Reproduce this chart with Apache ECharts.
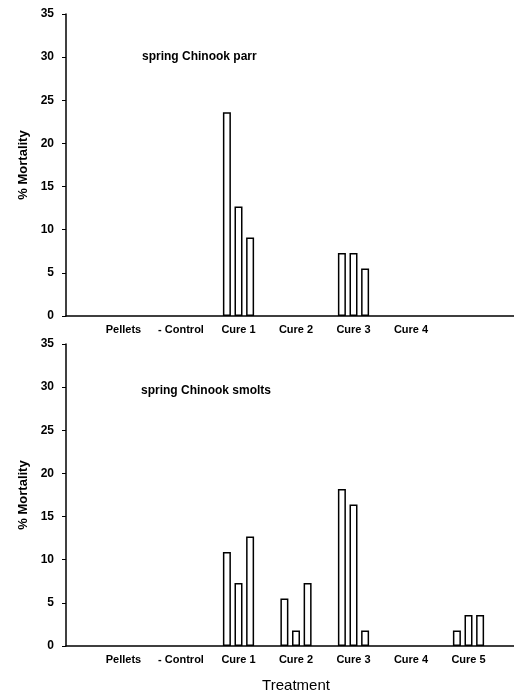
<!DOCTYPE html>
<html>
<head>
<meta charset="utf-8">
<script src="https://cdn.jsdelivr.net/npm/echarts@6/dist/echarts.min.js"></script>
<style>
  html, body { margin: 0; padding: 0; background: #fff; }
  #main { width: 514px; height: 691px; }
</style>
</head>
<body>
<div id="main"></div>
<script>
// categories (blank slots at both ends keep the axis spacing of the original)
const parrCategories = ['', 'Pellets', '- Control', 'Cure 1', 'Cure 2', 'Cure 3', 'Cure 4', '', ''];
const smoltCategories = ['', 'Pellets', '- Control', 'Cure 1', 'Cure 2', 'Cure 3', 'Cure 4', 'Cure 5', ''];

// % mortality, three replicate tanks per treatment
const parrTank1 = [null, null, null, 23.6, null, 7.3, null, null, null];
const parrTank2 = [null, null, null, 12.7, null, 7.3, null, null, null];
const parrTank3 = [null, null, null, 9.1, null, 5.5, null, null, null];

const smoltTank1 = [null, null, null, 10.9, 5.5, 18.2, null, 1.8, null];
const smoltTank2 = [null, null, null, 7.3, 1.8, 16.4, null, 3.6, null];
const smoltTank3 = [null, null, null, 12.7, 7.3, 1.8, null, 3.6, null];

const yTicks = { min: 0, max: 35, interval: 5 };

const chart = echarts.init(document.getElementById('main'));

function xAxisFor(idx, cats, withName) {
  return {
    type: 'category',
    gridIndex: idx,
    data: cats,
    boundaryGap: false,
    axisLine: { lineStyle: { color: '#000', width: 1.5 } },
    axisTick: { show: false },
    axisLabel: { interval: 0, color: '#000', fontSize: 11, fontWeight: 'bold', fontFamily: 'Liberation Sans', margin: 8 },
    name: withName ? 'Treatment' : '',
    nameLocation: 'middle',
    nameGap: 32,
    nameTextStyle: { color: '#000', fontSize: 15, fontFamily: 'Liberation Sans' }
  };
}

function yAxisFor(idx) {
  return {
    type: 'value',
    gridIndex: idx,
    min: yTicks.min,
    max: yTicks.max,
    interval: yTicks.interval,
    axisLine: { show: true, lineStyle: { color: '#000', width: 1.5 } },
    axisTick: { show: true, length: 4, lineStyle: { color: '#000' } },
    splitLine: { show: false },
    axisLabel: { color: '#000', fontSize: 12, fontWeight: 'bold', fontFamily: 'Liberation Sans', margin: 12 },
    name: '% Mortality',
    nameLocation: 'middle',
    nameGap: 36,
    nameTextStyle: { color: '#000', fontSize: 13, fontWeight: 'bold', fontFamily: 'Liberation Sans' }
  };
}

function barSeries(idx, data) {
  return {
    type: 'bar',
    xAxisIndex: idx,
    yAxisIndex: idx,
    data: data,
    barWidth: 8,
    barGap: '45%',
    itemStyle: { color: '#fff', borderColor: '#000', borderWidth: 1.5 },
    silent: true
  };
}

chart.setOption({
  animation: false,
  title: [
    { text: 'spring Chinook parr', left: 142, top: 51, padding: 0,
      textStyle: { fontSize: 12, fontWeight: 'bold', color: '#000', fontFamily: 'Liberation Sans' } },
    { text: 'spring Chinook smolts', left: 141, top: 385, padding: 0,
      textStyle: { fontSize: 12, fontWeight: 'bold', color: '#000', fontFamily: 'Liberation Sans' } }
  ],
  grid: [
    { left: 66, width: 460, top: 14, height: 302, outerBoundsMode: 'none' },
    { left: 66, width: 460, top: 344, height: 302, outerBoundsMode: 'none' }
  ],
  xAxis: [xAxisFor(0, parrCategories, false), xAxisFor(1, smoltCategories, true)],
  yAxis: [yAxisFor(0), yAxisFor(1)],
  series: [
    barSeries(0, parrTank1),
    barSeries(0, parrTank2),
    barSeries(0, parrTank3),
    barSeries(1, smoltTank1),
    barSeries(1, smoltTank2),
    barSeries(1, smoltTank3)
  ]
});
</script>
</body>
</html>
